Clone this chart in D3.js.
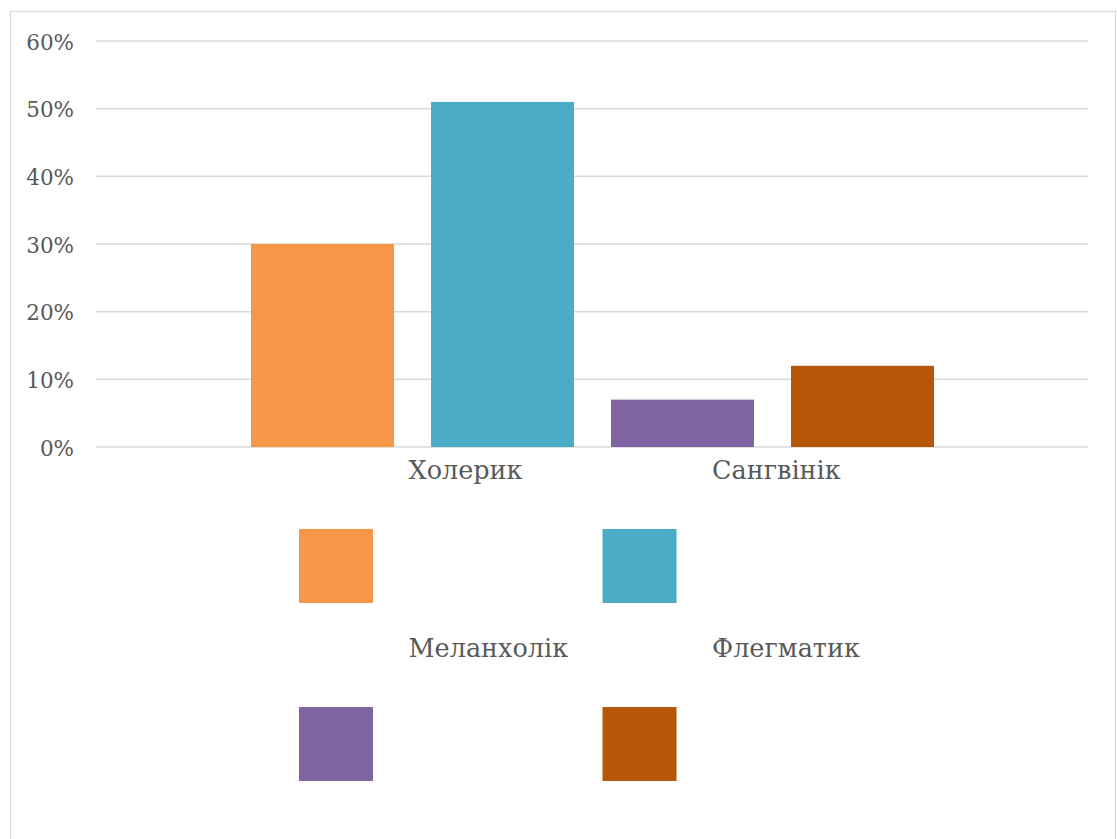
<!DOCTYPE html>
<html>
<head>
<meta charset="utf-8">
<script src="https://cdn.jsdelivr.net/npm/d3@7"></script>
<style>
  html, body { margin: 0; padding: 0; background: #fff; }
  svg { display: block; }
  text { font-family: "DejaVu Serif", "Liberation Serif", serif; fill: #595959; }
</style>
</head>
<body>
<div id="chart"></div>
<script>
// Temperament types and their shares
const series = ["Холерик", "Сангвінік", "Меланхолік", "Флегматик"];
const values = [0.30, 0.51, 0.07, 0.12];
const colors = ["#F79646", "#4BACC6", "#8064A2", "#B65708"];
const yTicks = [0, 0.1, 0.2, 0.3, 0.4, 0.5, 0.6];

const W = 1117, H = 839;
const plot = { left: 96, right: 1088, top: 41, bottom: 447 };

const svg = d3.select("#chart").append("svg")
  .attr("width", W).attr("height", H);

// chart frame
svg.append("rect")
  .attr("x", 10.5).attr("y", 11.5)
  .attr("width", 1105).attr("height", 850)
  .attr("fill", "#fff").attr("stroke", "#d9d9d9").attr("stroke-width", 1.2);

const y = d3.scaleLinear().domain([0, 0.6]).range([plot.bottom, plot.top]);

// one cluster of four bars, centred in the plot area
const x = d3.scaleBand()
  .domain(series)
  .range([plot.left + 118, plot.right - 117])
  .paddingInner(0.2056)
  .paddingOuter(0.2056);

// gridlines
svg.append("g").selectAll("line")
  .data(yTicks)
  .join("line")
  .attr("x1", plot.left).attr("x2", plot.right)
  .attr("y1", d => y(d)).attr("y2", d => y(d))
  .attr("stroke", "#d9d9d9").attr("stroke-width", 1.5);

// y axis labels
const yAxis = d3.axisLeft(y)
  .tickValues(yTicks)
  .tickFormat(d3.format(".0%"))
  .tickSize(0)
  .tickPadding(0);

const yg = svg.append("g")
  .attr("transform", `translate(${plot.left - 22},0)`)
  .call(yAxis);
yg.select(".domain").remove();
yg.selectAll("text")
  .attr("font-family", "DejaVu Serif, Liberation Serif, serif")
  .attr("font-size", 21.5)
  .attr("fill", "#595959")
  .attr("dy", "0.38em");

// bars
svg.append("g").selectAll("rect")
  .data(series)
  .join("rect")
  .attr("x", d => x(d))
  .attr("width", x.bandwidth())
  .attr("y", (d, i) => y(values[i]))
  .attr("height", (d, i) => y(0) - y(values[i]))
  .attr("fill", (d, i) => colors[i]);

// legend: two columns, two rows
const legend = svg.append("g");
const item = legend.selectAll("g")
  .data(series)
  .join("g")
  .attr("transform", (d, i) => `translate(${299 + (i % 2) * 303.5},${529 + Math.floor(i / 2) * 178})`);

item.append("rect")
  .attr("width", 74).attr("height", 74)
  .attr("fill", (d, i) => colors[i]);

item.append("text")
  .attr("x", 109.5)
  .attr("y", -50)
  .attr("font-size", 25.5)
  .text(d => d);
</script>
</body>
</html>
